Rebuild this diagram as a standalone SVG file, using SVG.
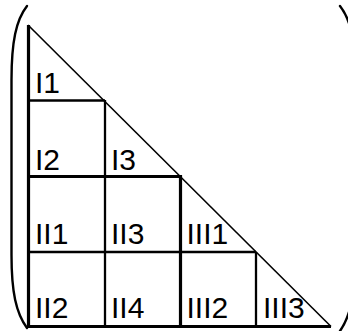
<svg xmlns="http://www.w3.org/2000/svg" width="348" height="331" viewBox="0 0 348 331">
<style>
.thin{stroke:#000;stroke-width:2.3;fill:none}
.thick{stroke:#000;stroke-width:3.2;fill:none}
.hyp{stroke:#000;stroke-width:1.6;fill:none}
.par{stroke:#000;stroke-width:2.4;fill:none;stroke-linecap:round}
text{font-family:"Liberation Sans",Arial,sans-serif;font-size:30px;fill:#000}
</style>
<rect width="348" height="331" fill="#fff"/>
<g id="parens">
<path class="par" d="M27,6 C16,20 11.5,42 11.5,80 L11.5,255 C11.5,292 16,313 27,328"/>
<path class="par" d="M340,6 C351,20 355.5,42 355.5,80 L355.5,255 C355.5,292 351,315 340,331"/>
</g>
<g id="connectors">
<line class="hyp" x1="28" y1="25" x2="331" y2="326.5"/>
<line class="thin" x1="28" y1="100.5" x2="105" y2="100.5"/>
<line class="thin" x1="105" y1="100" x2="105" y2="326"/>
<line class="thin" x1="28" y1="252" x2="256" y2="252"/>
<line class="thin" x1="256" y1="252" x2="256" y2="326"/>
<line class="thick" x1="28" y1="176.5" x2="180.5" y2="176.5"/>
<line class="thick" x1="180.5" y1="175" x2="180.5" y2="326"/>
<line class="thick" x1="28.5" y1="25" x2="28.5" y2="327.5"/>
<line class="thick" x1="27" y1="326.5" x2="331" y2="326.5"/>
</g>
<g id="I1"><text x="35" y="93">I1</text></g>
<g id="I2"><text x="35" y="169.5">I2</text></g>
<g id="I3"><text x="111" y="169.5">I3</text></g>
<g id="II1"><text x="35" y="243.5">II1</text></g>
<g id="II3"><text x="111" y="243.5">II3</text></g>
<g id="III1"><text x="186.5" y="243.5">III1</text></g>
<g id="II2"><text x="35" y="318">II2</text></g>
<g id="II4"><text x="111" y="318">II4</text></g>
<g id="III2"><text x="186.5" y="318">III2</text></g>
<g id="III3"><text x="263" y="318">III3</text></g>
</svg>
